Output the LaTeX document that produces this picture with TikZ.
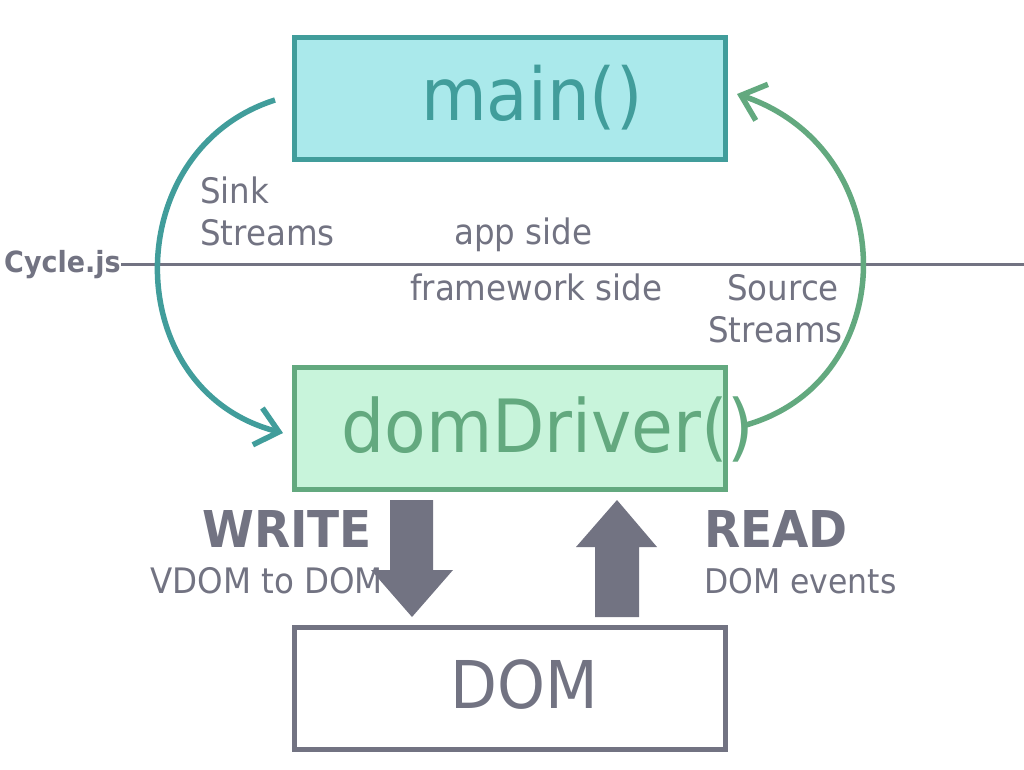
\documentclass[tikz,border=0pt]{standalone}
\usepackage{fontspec}
\setmainfont{DejaVu Sans}
\usetikzlibrary{arrows.meta}
\definecolor{teal1}{HTML}{419D9B}
\definecolor{tealfill}{HTML}{AAE9EB}
\definecolor{grn}{HTML}{63A97F}
\definecolor{grnfill}{HTML}{C8F4DB}
\definecolor{gry}{HTML}{727382}
\newcommand{\vs}[1]{\scalebox{1}[1.08]{#1}}
\begin{document}
\begin{tikzpicture}[x=1pt,y=-1pt,
  box/.style={draw, line width=5pt, minimum width=431pt, minimum height=122pt, inner sep=0pt, outer sep=0pt},
  lbl/.style={text=gry, anchor=base west, inner sep=0pt, font=\fontsize{32.5}{32.5}\selectfont},
  big/.style={anchor=base west, inner sep=0pt, font=\fontsize{68}{68}\selectfont},
  boldlbl/.style={text=gry, anchor=base west, inner sep=0pt, font=\bfseries\fontsize{47}{47}\selectfont},
  flow/.style={line width=5.5pt, -{Straight Barb[length=22pt,width=38pt,line cap=butt]}},
  block/.style={fill=gry, draw=none}]
\useasboundingbox (0,0) rectangle (1024,769);
% boxes
\node[box, draw=teal1, fill=tealfill] (main) at (510,98.5) {};
\node[box, draw=grn, fill=grnfill] (dd) at (510,428.5) {};
\node[box, draw=gry, fill=white] (dom) at (510,688) {};
\node[big, text=teal1, font=\fontsize{67.5}{67.5}\selectfont] (maintxt) at (421,120) {\vs{main()}};
\node[big, text=grn] (ddtxt) at (341,452) {\vs{domDriver()}};
\node[big, text=gry, font=\fontsize{61}{61}\selectfont] (domtxt) at (450,708) {\vs{DOM}};
% separator line
\node[text=gry, anchor=base west, inner sep=0pt, font=\bfseries\fontsize{27}{27}\selectfont] (cyc) at (4,272) {\vs{Cycle.js}};
\coordinate (lineend) at (1024,264);
\draw[gry, line width=3pt] (cyc.east |- lineend) -- (lineend);
% labels
\node[lbl] (sink1) at (200,203) {\vs{Sink}};
\node[lbl] (sink2) at (200,245) {\vs{Streams}};
\node[lbl] (app) at (454,244) {\vs{app side}};
\node[lbl] (fw) at (410,300) {\vs{framework side}};
\node[lbl] (src1) at (727,300) {\vs{Source}};
\node[lbl] (src2) at (708,342) {\vs{Streams}};
\node[boldlbl] (write) at (202,547) {\vs{WRITE}};
\node[lbl] (vdom) at (150,593) {\vs{VDOM to DOM}};
\node[boldlbl] (read) at (704,547) {\vs{READ}};
\node[lbl, font=\fontsize{31.5}{31.5}\selectfont] (evts) at (704,593) {\vs{DOM events}};
% curved flows
\coordinate (s1) at (275,100);
\coordinate (e1) at (283,433);
\draw[flow, teal1] (s1) .. controls (118,150) and (118,390) .. (e1);
\coordinate (s2) at (746,425);
\coordinate (e2) at (737,94);
\draw[flow, grn] (s2) .. controls (903,380) and (903,150) .. (e2);
% block arrows
\fill[gry] (390,500) -- (433,500) -- (433,570) -- (453,570) -- (412,617) -- (371,570) -- (390,570) -- cycle;
\fill[gry] (617,500) -- (657,547) -- (639,547) -- (639,617) -- (595,617) -- (595,547) -- (576,547) -- cycle;
\end{tikzpicture}
\end{document}
